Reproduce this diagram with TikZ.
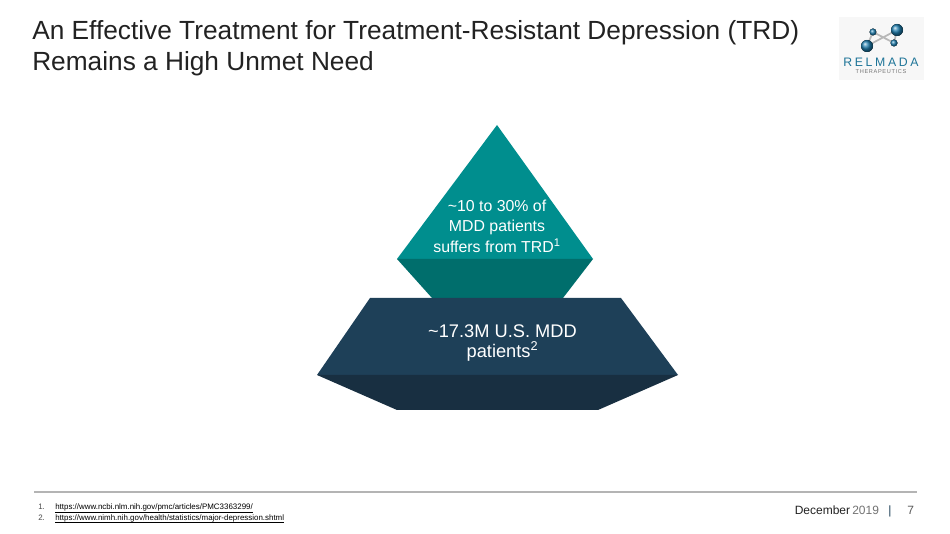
\documentclass[tikz,border=0pt]{standalone}
\usepackage{fontspec}
\setmainfont{Liberation Sans}
\usetikzlibrary{calc}
\definecolor{tealtop}{HTML}{008E8E}
\definecolor{tealdark}{HTML}{006E6C}
\definecolor{navytop}{HTML}{1E4058}
\definecolor{navydark}{HTML}{182F41}
\definecolor{titlecol}{HTML}{222222}
\definecolor{rulecol}{HTML}{B4B4B4}
\definecolor{logoblue}{HTML}{1F7FB0}
\definecolor{logotext}{HTML}{1F7598}
\definecolor{logobg}{HTML}{F7F7F7}
\newcommand{\ulnk}[1]{\underline{\smash{#1}}}
\tikzset{
  px/.style={x=0.75pt,y=-0.75pt},
  titletxt/.style={anchor=base west,text=titlecol,font=\fontsize{19.7}{23}\selectfont,inner sep=0pt},
  pyrtxt/.style={align=center,text=white,inner sep=0pt},
  reftxt/.style={anchor=base west,text=black,font=\fontsize{5.95}{7}\selectfont,inner sep=0pt},
  foot/.style={anchor=base west,font=\fontsize{9}{11}\selectfont,inner sep=0pt},
  ball/.style={shade,ball color=logoblue},
  stick/.style={line width=1.3pt,color=black!28},
}
\begin{document}
\begin{tikzpicture}[px]
\useasboundingbox (0,0) rectangle (950,534);
\fill[white] (0,0) rectangle (950,534);
% title
\node[titletxt] (t1) at (32,40) {An Effective Treatment for Treatment-Resistant Depression (TRD)};
\node[titletxt] (t2) at (32,71) {Remains a High Unmet Need};
% logo
\fill[logobg] (839,17) rectangle (924,80);
\coordinate (b1) at (867,46);
\coordinate (b2) at (897,30);
\coordinate (b3) at (894,43);
\coordinate (b4) at (873,32);
\draw[stick] (b1) -- (b4) -- (b3) -- (b2) -- cycle;
\fill[ball] (b1) circle (6);
\fill[ball] (b2) circle (6);
\fill[ball] (b3) circle (3.5);
\fill[ball] (b4) circle (3.5);
\node[inner sep=0pt,text=logotext,font=\fontsize{9.2}{10}\selectfont] (lg1) at (881,62) {R\kern2pt E\kern2pt L\kern2pt M\kern2pt A\kern2pt D\kern2pt A};
\node[inner sep=0pt,text=black!55,font=\fontsize{4.2}{5}\selectfont] (lg2) at (881,71.5) {T\kern.5pt H\kern.5pt E\kern.5pt R\kern.5pt A\kern.5pt P\kern.5pt E\kern.5pt U\kern.5pt T\kern.5pt I\kern.5pt C\kern.5pt S};
% pyramid top
\fill[tealtop] (497,125) -- (593,259) -- (397,259) -- cycle;
\fill[tealdark] (397,259) -- (593,259) -- (563,298) -- (432,298) -- cycle;
% pyramid bottom
\fill[navytop] (370,298) -- (621,298) -- (678,375) -- (317,375) -- cycle;
\fill[navydark] (317,375) -- (678,375) -- (598,410) -- (397,410) -- cycle;
% labels
\node[pyrtxt,font=\fontsize{11.9}{15.4}\selectfont] (a) at (497,226) {\textasciitilde10 to 30\% of\\MDD patients\\suffers from TRD\textsuperscript{1}};
\node[pyrtxt,font=\fontsize{13.7}{15.4}\selectfont] (b) at (502.5,343) {\textasciitilde17.3M U.S. MDD\\patients\textsuperscript{2}};
% footer
\coordinate (r1) at (34,492);
\coordinate (r2) at (917,492);
\draw[rulecol,line width=1.1pt] (r1) -- (r2);
\node[reftxt,text=black!70] (n1) at (38,510) {1.};
\node[reftxt,text=black!70] (n2) at (38,520) {2.};
\node[reftxt] (u1) at (55,510) {\ulnk{https://www.ncbi.nlm.nih.gov/pmc/articles/PMC3363299/}};
\node[reftxt] (u2) at (55,520) {\ulnk{https://www.nimh.nih.gov/health/statistics/major-depression.shtml}};
\node[foot,text=titlecol] (d) at (794.5,514) {December};
\node[foot,text=black!55] (y) at (852,514) {2019};
\node[foot,text=navytop] (s) at (888,514) {|};
\node[foot,text=black!65] (p) at (907,514) {7};
\end{tikzpicture}
\end{document}
